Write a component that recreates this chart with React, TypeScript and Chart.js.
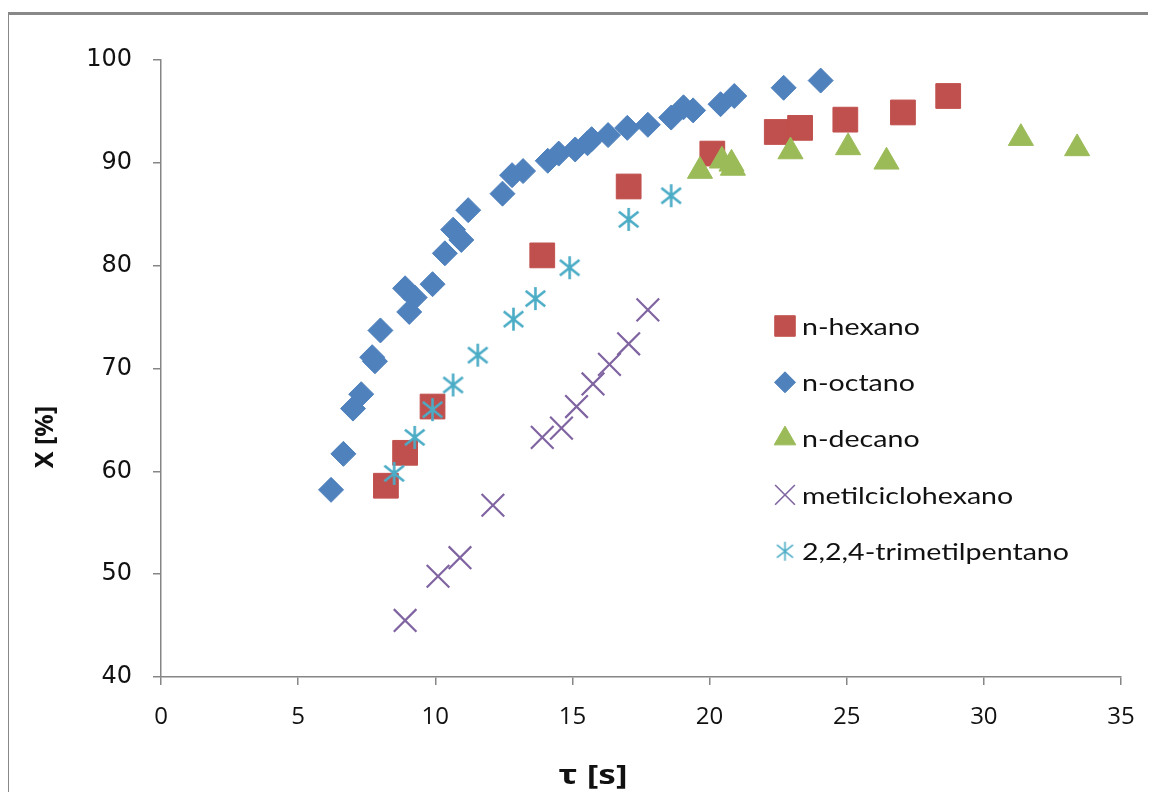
import React, { useEffect, useRef } from 'react';
import { Chart, registerables } from 'chart.js';
import { drawPoint } from 'chart.js/helpers';

Chart.register(...registerables);

// ---- data ----
const seriesNames = ['n-hexano', 'n-octano', 'n-decano', 'metilciclohexano', '2,2,4-trimetilpentano'];

const hexanoTau = [8.2, 8.9, 9.9, 13.9, 17.05, 20.1, 22.45, 23.3, 24.95, 27.05, 28.7];
const hexanoX = [58.6, 61.8, 66.3, 81.0, 87.7, 90.9, 93.0, 93.4, 94.2, 94.9, 96.5];

const octanoTau = [6.2, 6.65, 7.0, 7.3, 7.7, 7.8, 8.0, 8.9, 9.25, 9.05, 9.9, 10.35, 10.65, 10.95, 11.2, 12.45, 12.8, 13.2, 14.1, 14.5, 15.1, 15.55, 15.7, 16.3, 17.0, 17.75, 18.6, 19.05, 19.4, 20.4, 20.9, 22.7, 24.05];
const octanoX = [58.2, 61.7, 66.1, 67.5, 71.1, 70.7, 73.7, 77.8, 76.9, 75.5, 78.2, 81.2, 83.5, 82.5, 85.4, 87.0, 88.8, 89.2, 90.2, 90.9, 91.3, 91.9, 92.3, 92.7, 93.4, 93.7, 94.4, 95.4, 95.1, 95.7, 96.5, 97.3, 98.0];

const decanoTau = [19.65, 20.45, 20.8, 20.85, 22.95, 25.05, 26.45, 31.35, 33.4];
const decanoX = [89.2, 90.2, 89.9, 89.5, 91.1, 91.5, 90.1, 92.4, 91.4];

const metilTau = [8.9, 10.1, 10.9, 12.1, 13.9, 14.6, 15.15, 15.75, 16.35, 17.05, 17.75];
const metilX = [45.5, 49.8, 51.6, 56.7, 63.3, 64.2, 66.3, 68.5, 70.4, 72.4, 75.7];

const trimetilTau = [8.5, 9.25, 9.9, 10.65, 11.55, 12.85, 13.65, 14.9, 17.05, 18.6];
const trimetilX = [59.8, 63.3, 66.0, 68.4, 71.3, 74.8, 76.8, 79.8, 84.5, 86.8];

const xMin = 0, xMax = 35, xStep = 5;
const yMin = 40, yMax = 100, yStep = 10;

const xTitle = 'τ [s]';
const yTitle = 'X [%]';

// ---- styles ----
const colors = ['#C0504D', '#4F81BD', '#9BBB59', '#8064A2', '#4BACC6'];
const axisColor = '#868686';

function makeAsterisk(color: string, size: number, lw: number): HTMLCanvasElement {
  const c = document.createElement('canvas');
  c.width = size;
  c.height = size;
  const ctx = c.getContext('2d')!;
  ctx.strokeStyle = color;
  ctx.lineWidth = lw;
  const h = size / 2;
  const r = h - 1;
  ctx.beginPath();
  ctx.moveTo(h, h - r);
  ctx.lineTo(h, h + r);
  const d = r * 0.85;
  ctx.moveTo(h - d, h - d * 0.8);
  ctx.lineTo(h + d, h + d * 0.8);
  ctx.moveTo(h + d, h - d * 0.8);
  ctx.lineTo(h - d, h + d * 0.8);
  ctx.stroke();
  return c;
}

const pts = (xs: number[], ys: number[]) => xs.map((x, i) => ({ x, y: ys[i] }));

export default function App() {
  const ref = useRef<HTMLCanvasElement>(null);

  useEffect(() => {
    const asteriskBig = makeAsterisk(colors[4], 25, 2.6);
    const asteriskSmall = makeAsterisk(colors[4], 21, 1.6);

    const pointStyles: any[] = ['rect', 'rectRot', 'triangle', 'crossRot', asteriskBig];
    const legendStyles: any[] = ['rect', 'rectRot', 'triangle', 'crossRot', asteriskSmall];
    const radii = [17.5, 12.5, 14.5, 16, 12];
    const legendRadii = [14.5, 10.5, 12.5, 14, 10];
    const borderWidths = [1, 1, 1, 2.2, 0];

    const seriesData = [
      pts(hexanoTau, hexanoX),
      pts(octanoTau, octanoX),
      pts(decanoTau, decanoX),
      pts(metilTau, metilX),
      pts(trimetilTau, trimetilX),
    ];

    const datasets = seriesNames.map((name, i) => ({
      label: name,
      data: seriesData[i],
      showLine: false,
      pointStyle: pointStyles[i],
      pointRadius: radii[i],
      pointHoverRadius: radii[i],
      pointBackgroundColor: colors[i],
      pointBorderColor: colors[i],
      pointBorderWidth: borderWidths[i],
      backgroundColor: colors[i],
      borderColor: colors[i],
      order: 5 - i,
    }));

    const framePlugin = {
      id: 'frame',
      beforeDraw(chart: any) {
        const ctx = chart.ctx as CanvasRenderingContext2D;
        ctx.save();
        ctx.fillStyle = '#888';
        ctx.fillRect(6, 12, chart.width - 6, 3);
        ctx.fillRect(6, 12, 3, chart.height - 12);
        ctx.restore();
      },
    };

    const overlayPlugin = {
      id: 'overlay',
      afterDraw(chart: any) {
        const ctx = chart.ctx as CanvasRenderingContext2D;
        const a = chart.chartArea;
        // legend
        const mx = a.left + 624;
        const y0 = a.top + 266;
        const dy = 56.3;
        chart.data.datasets.forEach((ds: any, i: number) => {
          const y = y0 + i * dy;
          ctx.save();
          ctx.fillStyle = colors[i];
          ctx.strokeStyle = colors[i];
          ctx.lineWidth = i === 3 ? 1.6 : 1;
          drawPoint(ctx, { pointStyle: legendStyles[i], radius: legendRadii[i], borderWidth: ctx.lineWidth, rotation: 0 } as any, mx, y);
          ctx.restore();
          ctx.save();
          ctx.fillStyle = '#111';
          ctx.font = '24px Lato, "Open Sans", sans-serif';
          ctx.textBaseline = 'middle';
          ctx.textAlign = 'left';
          ctx.translate(mx + 17, y + 1);
          ctx.scale(1.19, 1);
          ctx.fillText(ds.label, 0, 0);
          ctx.restore();
        });
        // axis titles
        ctx.save();
        ctx.fillStyle = '#111';
        ctx.font = 'bold 27px "Noto Sans", sans-serif';
        ctx.textAlign = 'center';
        ctx.textBaseline = 'middle';
        ctx.translate(a.left + 432, a.bottom + 99);
        ctx.scale(1.3, 1);
        ctx.fillText(xTitle, 0, 0);
        ctx.restore();
        ctx.save();
        ctx.fillStyle = '#111';
        ctx.font = 'bold 25px "Noto Sans", sans-serif';
        ctx.textAlign = 'center';
        ctx.textBaseline = 'middle';
        ctx.translate(a.left - 115, a.top + 377);
        ctx.rotate(-Math.PI / 2);
        ctx.fillText(yTitle, 0, 0);
        ctx.restore();
      },
    };

    const chart = new Chart(ref.current!, {
      type: 'scatter',
      data: { datasets: datasets as any },
      options: {
        responsive: false,
        animation: false,
        events: [],
        layout: { padding: { top: 60, right: 35, left: 0, bottom: 0 } },
        plugins: {
          legend: { display: false },
          tooltip: { enabled: false },
        },
        scales: {
          x: {
            type: 'linear',
            min: xMin,
            max: xMax,
            ticks: {
              stepSize: xStep,
              font: { family: '"Open Sans", sans-serif', size: 24 },
              color: '#111',
              padding: 18,
              maxRotation: 0,
            },
            grid: { display: true, drawOnChartArea: false, drawTicks: true, tickLength: 8, color: axisColor, lineWidth: 1.5 },
            border: { display: true, color: axisColor, width: 1.5 },
            afterFit: (s: any) => { s.height = 123; },
          },
          y: {
            type: 'linear',
            min: yMin,
            max: yMax,
            ticks: {
              stepSize: yStep,
              font: { family: '"DejaVu Sans", sans-serif', size: 24 },
              color: '#111',
              padding: 21,
            },
            grid: { display: true, drawOnChartArea: false, drawTicks: true, tickLength: 8, color: axisColor, lineWidth: 1.5 },
            border: { display: true, color: axisColor, width: 1.5 },
            afterFit: (s: any) => { s.width = 161; },
          },
        },
      },
      plugins: [framePlugin, overlayPlugin],
    });
    return () => chart.destroy();
  }, []);

  return (
    <div style={{ position: 'relative', width: 1140, height: 784 }}>
      <canvas
        ref={ref}
        width={1156}
        height={800}
        style={{ position: 'absolute', left: -8, top: -8, width: 1156, height: 800 }}
      />
    </div>
  );
}
